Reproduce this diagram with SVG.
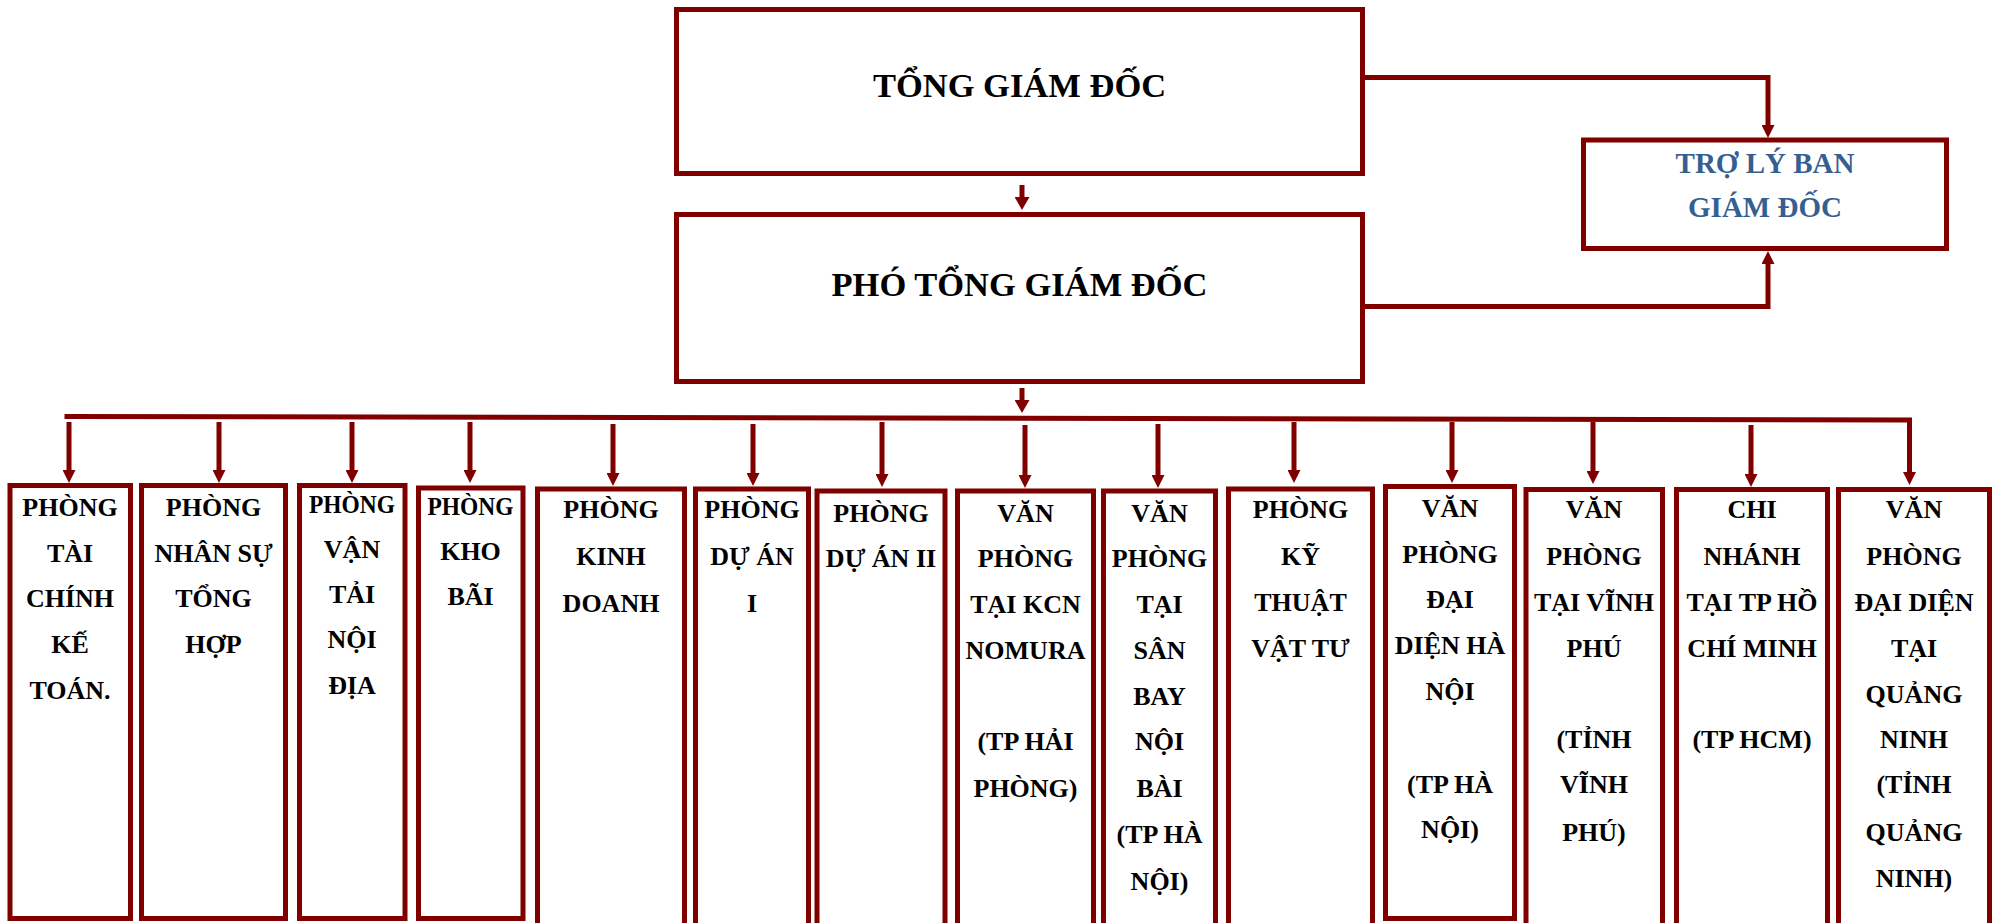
<svg xmlns="http://www.w3.org/2000/svg" width="1995" height="923" viewBox="0 0 1995 923">
<defs>
<style>
.box{fill:#ffffff;stroke:#800000;stroke-width:5}
.conn{fill:none;stroke:#800000;stroke-width:5;stroke-linecap:butt}
.t{font-family:"Liberation Serif","Times New Roman",serif;font-weight:bold;fill:#000000;text-anchor:middle}
.big{font-size:34.5px}
.sm{font-size:26px}
.blue{font-size:29px;fill:#365F91}
</style>
<marker id="ah" markerUnits="userSpaceOnUse" markerWidth="13" markerHeight="13" viewBox="0 0 13 13" refX="3" refY="6.5" orient="auto">
<path d="M0,0 L13,6.5 L0,13 z" fill="#800000"/>
</marker>
<marker id="ahL" markerUnits="userSpaceOnUse" markerWidth="15" markerHeight="15" viewBox="0 0 15 15" refX="3" refY="7.5" orient="auto">
<path d="M0,0 L13,7.5 L0,15 z" fill="#800000"/>
</marker>
</defs>
<rect width="1995" height="923" fill="#ffffff"/>

<g id="connectors">
<line class="conn" x1="1022" y1="185" x2="1022" y2="200" marker-end="url(#ahL)"/>
<line class="conn" x1="1022" y1="388" x2="1022" y2="403" marker-end="url(#ahL)"/>
<path class="conn" d="M1365,77.5 H1768 V128" marker-end="url(#ah)"/>
<path class="conn" d="M1365,306.5 H1768 V261" marker-end="url(#ah)"/>
<line class="conn" x1="64.5" y1="416.5" x2="1912" y2="420"/>
<line class="conn" x1="69" y1="422" x2="69" y2="473" marker-end="url(#ah)"/>
<line class="conn" x1="219" y1="422" x2="219" y2="473" marker-end="url(#ah)"/>
<line class="conn" x1="352" y1="422" x2="352" y2="473" marker-end="url(#ah)"/>
<line class="conn" x1="470" y1="422" x2="470" y2="473" marker-end="url(#ah)"/>
<line class="conn" x1="613" y1="424" x2="613" y2="476" marker-end="url(#ah)"/>
<line class="conn" x1="753" y1="424" x2="753" y2="476" marker-end="url(#ah)"/>
<line class="conn" x1="882" y1="422" x2="882" y2="477" marker-end="url(#ah)"/>
<line class="conn" x1="1025" y1="425" x2="1025" y2="478" marker-end="url(#ah)"/>
<line class="conn" x1="1158" y1="424" x2="1158" y2="478" marker-end="url(#ah)"/>
<line class="conn" x1="1294" y1="422" x2="1294" y2="473" marker-end="url(#ah)"/>
<line class="conn" x1="1452" y1="422" x2="1452" y2="473" marker-end="url(#ah)"/>
<line class="conn" x1="1593" y1="422" x2="1593" y2="474" marker-end="url(#ah)"/>
<line class="conn" x1="1751" y1="425" x2="1751" y2="477" marker-end="url(#ah)"/>
<line class="conn" x1="1909.5" y1="418" x2="1909.5" y2="475" marker-end="url(#ah)"/>
</g>

<g id="tong-giam-doc">
<rect class="box" x="676.5" y="9.5" width="686" height="164"/>
<text class="t big" x="1019.5" y="97">TỔNG GIÁM ĐỐC</text>
</g>
<g id="pho-tong-giam-doc">
<rect class="box" x="676.5" y="214.5" width="686" height="167"/>
<text class="t big" x="1019.5" y="296">PHÓ TỔNG GIÁM ĐỐC</text>
</g>
<g id="tro-ly">
<rect class="box" x="1583.5" y="140" width="363" height="108.5"/>
<text class="t blue" x="1765"><tspan x="1765" y="173">TRỢ LÝ BAN</tspan><tspan x="1765" y="217">GIÁM ĐỐC</tspan></text>
</g>

<g id="phong-tai-chinh">
<rect class="box" x="10" y="485.5" width="120.5" height="433"/>
<text class="t sm"><tspan x="70" y="516">PHÒNG</tspan><tspan x="70" y="562">TÀI</tspan><tspan x="70" y="607">CHÍNH</tspan><tspan x="70" y="653">KẾ</tspan><tspan x="70" y="699">TOÁN.</tspan></text>
</g>
<g id="phong-nhan-su">
<rect class="box" x="141.5" y="485.5" width="144" height="433"/>
<text class="t sm"><tspan x="213.5" y="516">PHÒNG</tspan><tspan x="213.5" y="562">NHÂN SỰ</tspan><tspan x="213.5" y="607">TỔNG</tspan><tspan x="213.5" y="653">HỢP</tspan></text>
</g>
<g id="phong-van-tai">
<rect class="box" x="299.5" y="485.5" width="105.5" height="433"/>
<text class="t sm"><tspan x="352" y="513" textLength="86" lengthAdjust="spacingAndGlyphs">PHÒNG</tspan><tspan x="352" y="558">VẬN</tspan><tspan x="352" y="603">TẢI</tspan><tspan x="352" y="648">NỘI</tspan><tspan x="352" y="694">ĐỊA</tspan></text>
</g>
<g id="phong-kho-bai">
<rect class="box" x="418.5" y="488" width="104.5" height="430.5"/>
<text class="t sm"><tspan x="470.5" y="515" textLength="86" lengthAdjust="spacingAndGlyphs">PHÒNG</tspan><tspan x="470.5" y="560">KHO</tspan><tspan x="470.5" y="605">BÃI</tspan></text>
</g>
<g id="phong-kinh-doanh">
<rect class="box" x="537.5" y="489" width="147" height="441"/>
<text class="t sm"><tspan x="611" y="518">PHÒNG</tspan><tspan x="611" y="565">KINH</tspan><tspan x="611" y="612">DOANH</tspan></text>
</g>
<g id="phong-du-an-1">
<rect class="box" x="695.5" y="489" width="113" height="441"/>
<text class="t sm"><tspan x="752" y="518">PHÒNG</tspan><tspan x="752" y="565">DỰ ÁN</tspan><tspan x="752" y="612">I</tspan></text>
</g>
<g id="phong-du-an-2">
<rect class="box" x="817" y="491" width="128" height="439"/>
<text class="t sm"><tspan x="881" y="522">PHÒNG</tspan><tspan x="881" y="567">DỰ ÁN II</tspan></text>
</g>
<g id="vp-nomura">
<rect class="box" x="957.5" y="491" width="136" height="439"/>
<text class="t sm"><tspan x="1025.5" y="522">VĂN</tspan><tspan x="1025.5" y="567">PHÒNG</tspan><tspan x="1025.5" y="613">TẠI KCN</tspan><tspan x="1025.5" y="659">NOMURA</tspan><tspan x="1025.5" y="750">(TP HẢI</tspan><tspan x="1025.5" y="797">PHÒNG)</tspan></text>
</g>
<g id="vp-noi-bai">
<rect class="box" x="1103.5" y="491" width="112" height="439"/>
<text class="t sm"><tspan x="1159.5" y="522">VĂN</tspan><tspan x="1159.5" y="567">PHÒNG</tspan><tspan x="1159.5" y="613">TẠI</tspan><tspan x="1159.5" y="659">SÂN</tspan><tspan x="1159.5" y="705">BAY</tspan><tspan x="1159.5" y="750">NỘI</tspan><tspan x="1159.5" y="797">BÀI</tspan><tspan x="1159.5" y="843">(TP HÀ</tspan><tspan x="1159.5" y="890">NỘI)</tspan></text>
</g>
<g id="phong-ky-thuat">
<rect class="box" x="1228.5" y="489" width="144" height="441"/>
<text class="t sm"><tspan x="1300.5" y="518">PHÒNG</tspan><tspan x="1300.5" y="565">KỸ</tspan><tspan x="1300.5" y="611">THUẬT</tspan><tspan x="1300.5" y="657">VẬT TƯ</tspan></text>
</g>
<g id="vp-ha-noi">
<rect class="box" x="1385.5" y="486.5" width="129" height="432"/>
<text class="t sm"><tspan x="1450" y="517">VĂN</tspan><tspan x="1450" y="563">PHÒNG</tspan><tspan x="1450" y="608">ĐẠI</tspan><tspan x="1450" y="654">DIỆN HÀ</tspan><tspan x="1450" y="700">NỘI</tspan><tspan x="1450" y="793">(TP HÀ</tspan><tspan x="1450" y="838">NỘI)</tspan></text>
</g>
<g id="vp-vinh-phu">
<rect class="box" x="1526" y="489.5" width="136.5" height="440.5"/>
<text class="t sm"><tspan x="1594" y="518">VĂN</tspan><tspan x="1594" y="565">PHÒNG</tspan><tspan x="1594" y="611">TẠI VĨNH</tspan><tspan x="1594" y="657">PHÚ</tspan><tspan x="1594" y="748">(TỈNH</tspan><tspan x="1594" y="793">VĨNH</tspan><tspan x="1594" y="841">PHÚ)</tspan></text>
</g>
<g id="chi-nhanh-hcm">
<rect class="box" x="1676.5" y="489.5" width="151" height="440.5"/>
<text class="t sm"><tspan x="1752" y="518">CHI</tspan><tspan x="1752" y="565">NHÁNH</tspan><tspan x="1752" y="611">TẠI TP HỒ</tspan><tspan x="1752" y="657">CHÍ MINH</tspan><tspan x="1752" y="748">(TP HCM)</tspan></text>
</g>
<g id="vp-quang-ninh">
<rect class="box" x="1838.5" y="489.5" width="151" height="440.5"/>
<text class="t sm"><tspan x="1914" y="518">VĂN</tspan><tspan x="1914" y="565">PHÒNG</tspan><tspan x="1914" y="611">ĐẠI DIỆN</tspan><tspan x="1914" y="657">TẠI</tspan><tspan x="1914" y="703">QUẢNG</tspan><tspan x="1914" y="748">NINH</tspan><tspan x="1914" y="793">(TỈNH</tspan><tspan x="1914" y="841">QUẢNG</tspan><tspan x="1914" y="887">NINH)</tspan></text>
</g>
</svg>
